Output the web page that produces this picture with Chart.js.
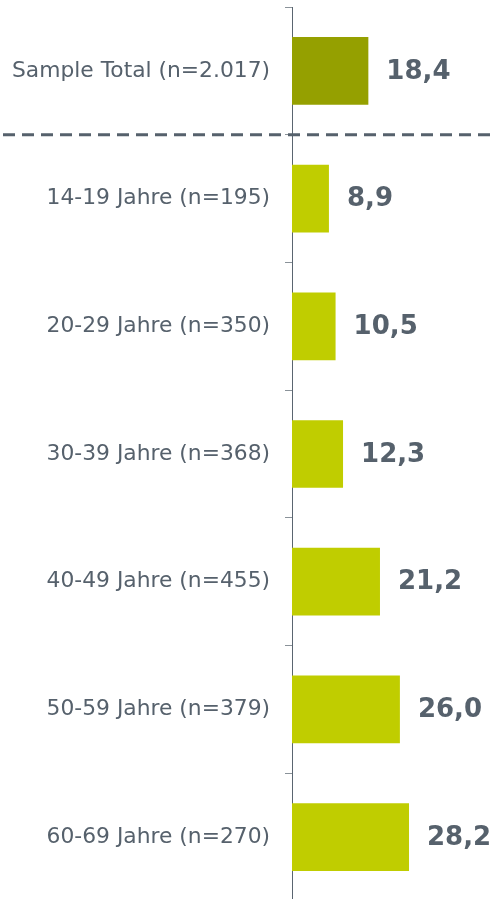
<!DOCTYPE html>
<html>
<head>
<meta charset="utf-8">
<script src="https://cdn.jsdelivr.net/npm/chart.js@4/dist/chart.umd.min.js"></script>
<style>
  html, body { margin: 0; padding: 0; background: #fff; overflow: hidden; }
  #wrap { position: relative; width: 497px; height: 905px; }
</style>
</head>
<body>
<div id="wrap"><canvas id="chart"></canvas></div>
<script>
// categories and values
var labels = ["Sample Total (n=2.017)", "14-19 Jahre (n=195)", "20-29 Jahre (n=350)",
              "30-39 Jahre (n=368)", "40-49 Jahre (n=455)", "50-59 Jahre (n=379)", "60-69 Jahre (n=270)"];
var values = [18.4, 8.9, 10.5, 12.3, 21.2, 26.0, 28.2];
var barColors = ["#95a000", "#c0cd00", "#c0cd00", "#c0cd00", "#c0cd00", "#c0cd00", "#c0cd00"];

var textColor = "#56616c";
Chart.defaults.font.family = "DejaVu Sans";

// value labels to the right of each bar
var valueLabels = {
  id: 'valueLabels',
  afterDatasetsDraw: function(chart) {
    var ctx = chart.ctx;
    var meta = chart.getDatasetMeta(0);
    ctx.save();
    ctx.font = "bold 26px DejaVu Sans";
    ctx.fillStyle = textColor;
    ctx.textAlign = 'left';
    ctx.textBaseline = 'middle';
    meta.data.forEach(function(bar, ii) {
      var txt = values[ii].toFixed(1).replace('.', ',');
      ctx.fillText(txt, bar.x + 18, bar.y + 1);
    });
    ctx.restore();
  }
};

// dashed separator under the total
var separator = {
  id: 'separator',
  afterDraw: function(chart) {
    var ctx = chart.ctx;
    var y = chart.scales.y;
    var yy = (y.getPixelForValue(0) + y.getPixelForValue(1)) / 2;
    ctx.save();
    ctx.strokeStyle = "#56616c";
    ctx.lineWidth = 3;
    ctx.setLineDash([12, 7]);
    ctx.beginPath();
    ctx.moveTo(3, yy);
    ctx.lineTo(chart.width, yy);
    ctx.stroke();
    ctx.restore();
  }
};

new Chart(document.getElementById('chart'), {
  type: 'bar',
  data: {
    labels: labels,
    datasets: [{
      data: values,
      backgroundColor: barColors,
      borderWidth: 0,
      barPercentage: 0.53,
      categoryPercentage: 1.0
    }]
  },
  options: {
    indexAxis: 'y',
    responsive: true,
    maintainAspectRatio: false,
    animation: false,
    layout: { padding: { top: 7, right: 0, bottom: 4, left: 0 } },
    plugins: {
      legend: { display: false },
      tooltip: { enabled: false }
    },
    scales: {
      x: {
        display: false,
        min: 0,
        max: 49.4
      },
      y: {
        grid: {
          offset: true,
          drawOnChartArea: false,
          tickLength: 7,
          color: "#8a9299",
          tickWidth: 1
        },
        border: { color: "#5a6570", width: 1 },
        ticks: {
          color: textColor,
          padding: 15,
          font: { size: 21.8 }
        },
        afterFit: function(scale) {
          scale.width = 292;
          scale.paddingTop = 0;
          scale.paddingBottom = 0;
        }
      }
    }
  },
  plugins: [valueLabels, separator]
});
</script>
</body>
</html>
